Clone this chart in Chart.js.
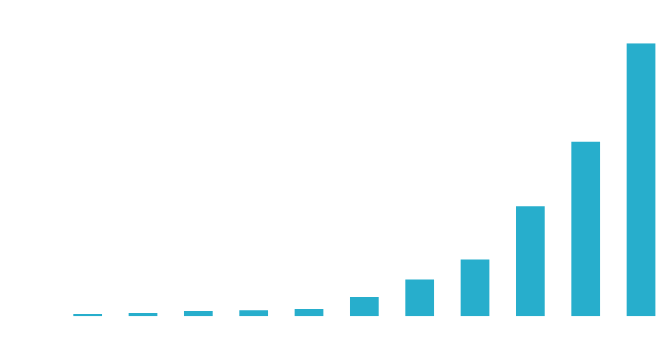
<!DOCTYPE html>
<html>
<head>
<meta charset="utf-8">
<script src="https://cdn.jsdelivr.net/npm/chart.js@4/dist/chart.umd.min.js"></script>
<style>
  html, body { margin: 0; padding: 0; background: #ffffff; overflow: hidden; width: 662px; height: 344px; }
  #wrap { width: 670px; height: 344px; }
</style>
</head>
<body>
<div id="wrap"><canvas id="c" width="670" height="344"></canvas></div>
<script>
const categories = ['1', '2', '3', '4', '5', '6', '7', '8', '9', '10', '11'];
const values = [0.84, 1.21, 1.94, 2.2, 2.68, 7.08, 13.46, 20.79, 40.34, 63.92, 100];
const yMax = 100;

new Chart(document.getElementById('c'), {
  type: 'bar',
  data: {
    labels: categories,
    datasets: [{
      data: values,
      backgroundColor: '#27aecc',
      borderWidth: 0,
      categoryPercentage: 1,
      barPercentage: 0.519
    }]
  },
  options: {
    responsive: false,
    animation: false,
    layout: { padding: { left: 60, right: 1.3, top: 43.3, bottom: 27.7 } },
    plugins: { legend: { display: false }, tooltip: { enabled: false } },
    scales: {
      x: { display: false, grid: { display: false } },
      y: { display: false, min: 0, max: yMax, grid: { display: false } }
    }
  }
});
</script>
</body>
</html>
